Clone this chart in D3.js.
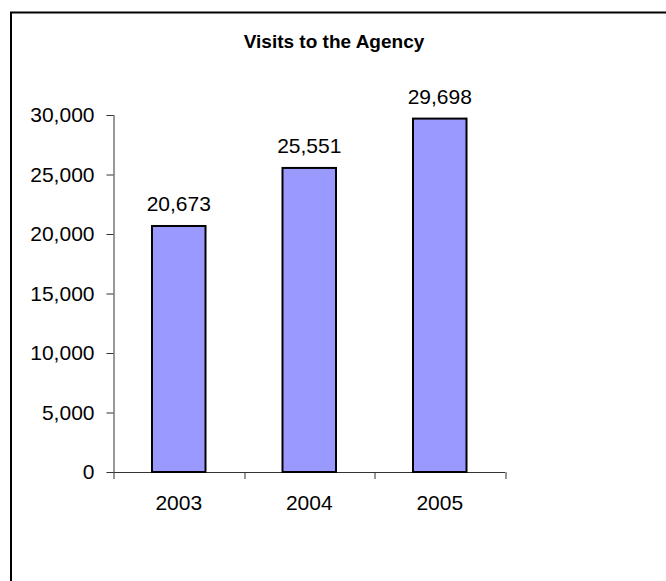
<!DOCTYPE html>
<html>
<head>
<meta charset="utf-8">
<script src="https://cdn.jsdelivr.net/npm/d3@7"></script>
<style>
  body { margin: 0; background: #fff; }
  text { font-family: Arial, "Liberation Sans", sans-serif; }
</style>
</head>
<body>
<svg id="chart"></svg>
<script>
// Data
var years = ["2003", "2004", "2005"];
var visits = [20673, 25551, 29698];
var yTicks = [0, 5000, 10000, 15000, 20000, 25000, 30000];

// Canvas dimensions
var margin = {top: 115, right: 161, bottom: 109, left: 113.5},
    width = 666 - margin.left - margin.right,
    height = 581 - margin.top - margin.bottom;

var svg = d3.select("#chart")
    .attr("width", 666)
    .attr("height", 581);

// chart area border (right and bottom edges fall off the page)
svg.append("rect")
    .attr("x", 11)
    .attr("y", 12.5)
    .attr("width", 720)
    .attr("height", 620)
    .style("fill", "none")
    .style("stroke", "#000")
    .style("stroke-width", 2);

svg.append("text")
    .attr("x", 334)
    .attr("y", 48)
    .attr("text-anchor", "middle")
    .style("font-size", "19px")
    .style("font-weight", "bold")
    .text("Visits to the Agency");

var chart = svg.append("g")
    .attr("transform", "translate(" + margin.left + "," + margin.top + ")");

// Set the ranges
var x = d3.scaleBand()
    .domain(years)
    .range([0, width])
    .paddingInner(0.59)
    .paddingOuter(0.295);

var y = d3.scaleLinear()
    .domain([0, 30000])
    .range([height, 0]);

var fmt = d3.format(",");

// y axis
var yAxis = chart.append("g")
    .call(d3.axisLeft(y).tickValues(yTicks).tickSize(7).tickPadding(12).tickFormat(fmt));
yAxis.select(".domain").attr("stroke", "#333").attr("d", "M0.5," + height + "V0");
yAxis.selectAll(".tick line").attr("stroke", "#333");
yAxis.selectAll("text")
    .style("font-size", "21px")
    .style("font-family", "Arial, 'Liberation Sans', sans-serif")
    .attr("fill", "#000");

// x axis: ticks sit between the categories
var xAxisG = chart.append("g")
    .attr("transform", "translate(0," + height + ")");

xAxisG.append("line")
    .attr("x1", 0)
    .attr("x2", width)
    .attr("y1", 0.5)
    .attr("y2", 0.5)
    .style("stroke", "#333");

xAxisG.selectAll(".xtick")
    .data(d3.range(years.length + 1))
  .enter().append("line")
    .attr("class", "xtick")
    .attr("x1", function(i) { return Math.round(i * x.step()) + 0.5; })
    .attr("x2", function(i) { return Math.round(i * x.step()) + 0.5; })
    .attr("y1", 0)
    .attr("y2", 7)
    .style("stroke", "#333");

xAxisG.selectAll(".xlabel")
    .data(years)
  .enter().append("text")
    .attr("class", "xlabel")
    .attr("x", function(d) { return x(d) + x.bandwidth() / 2; })
    .attr("y", 38)
    .attr("text-anchor", "middle")
    .style("font-size", "21px")
    .text(function(d) { return d; });

// Add bar chart
chart.selectAll(".bar")
    .data(visits)
  .enter().append("rect")
    .attr("class", "bar")
    .attr("x", function(d, i) { return x(years[i]); })
    .attr("width", x.bandwidth())
    .attr("y", function(d) { return y(d); })
    .attr("height", function(d) { return height - y(d); })
    .style("fill", "#9999ff")
    .style("stroke", "#000")
    .style("stroke-width", 2);

// value labels
chart.selectAll(".label")
    .data(visits)
  .enter().append("text")
    .attr("class", "label")
    .attr("x", function(d, i) { return x(years[i]) + x.bandwidth() / 2; })
    .attr("y", function(d) { return y(d) - 15; })
    .attr("text-anchor", "middle")
    .style("font-size", "21px")
    .text(function(d) { return fmt(d); });
</script>
</body>
</html>
